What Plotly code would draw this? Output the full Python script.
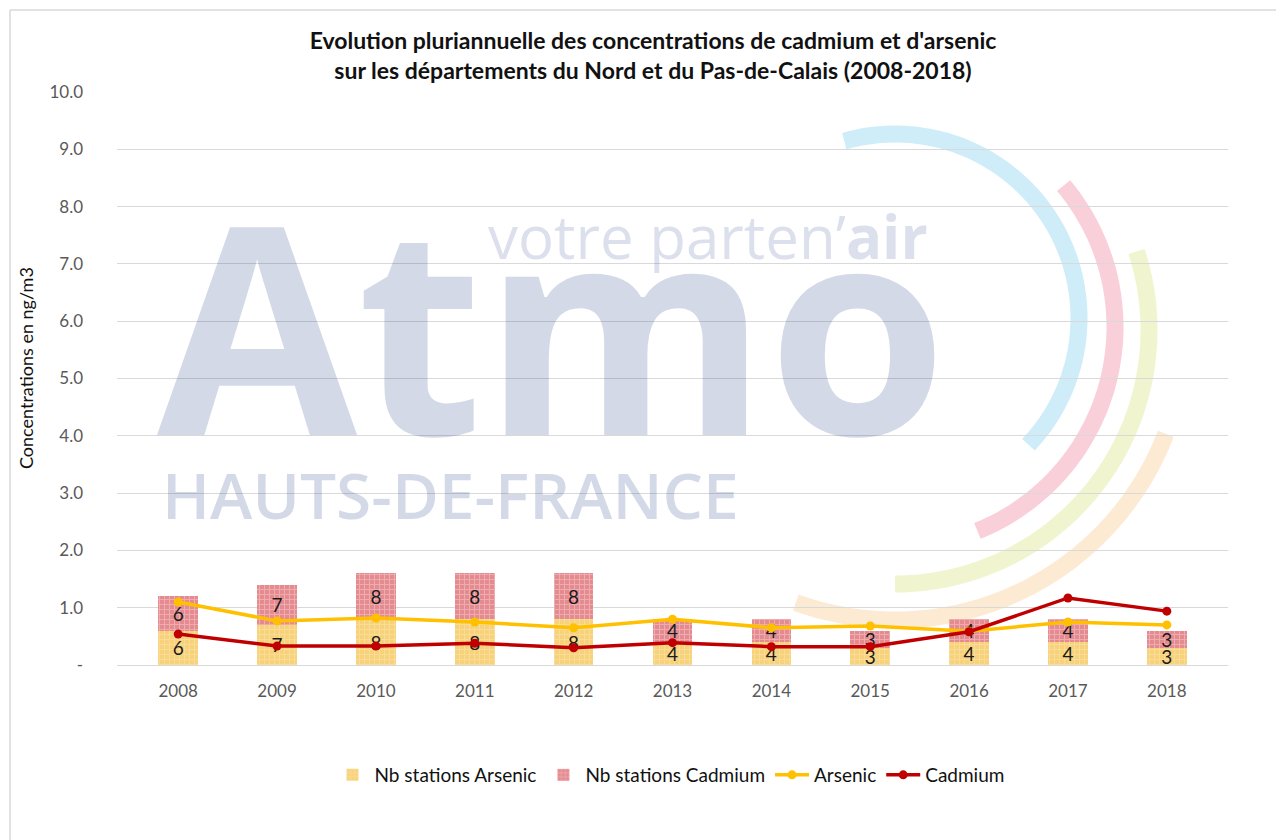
import numpy as np
import plotly.graph_objects as go

# ---------------- data ----------------
years = ["2008", "2009", "2010", "2011", "2012", "2013", "2014", "2015", "2016", "2017", "2018"]
nb_stations_arsenic = [6, 7, 8, 8, 8, 4, 4, 3, 4, 4, 3]
nb_stations_cadmium = [6, 7, 8, 8, 8, 4, 4, 3, 4, 4, 3]
arsenic = [1.10, 0.77, 0.82, 0.75, 0.65, 0.80, 0.65, 0.68, 0.59, 0.75, 0.70]
cadmium = [0.54, 0.33, 0.33, 0.38, 0.30, 0.39, 0.32, 0.32, 0.58, 1.17, 0.94]
station_scale = 0.1  # station counts drawn at 1/10 on the concentration axis
y_tickvals = [0, 1, 2, 3, 4, 5, 6, 7, 8, 9, 10]
y_ticktext = ["-", "1.0", "2.0", "3.0", "4.0", "5.0", "6.0", "7.0", "8.0", "9.0", "10.0"]

FONT = "Lato"
OFF = 8  # page body margin
W, H = 1284 - OFF, 840 - OFF
# plot area in screen pixels: x 117..1228, y 92..665
L, T = 117 - OFF, 92 - OFF
R = W - (1228 - OFF)
B = H - (665 - OFF)
PW, PH = W - L - R, H - T - B


def px(x):  # screen pixel -> paper
    return (x - OFF - L) / PW


def py(y):
    return (H - B - (y - OFF)) / PH


fig = go.Figure()

fig.add_trace(go.Bar(
    x=years, y=[n * station_scale for n in nb_stations_arsenic],
    text=[str(n) for n in nb_stations_arsenic], name="Nb stations Arsenic",
    marker=dict(color="#F7D27A", line=dict(width=0),
                pattern=dict(shape="+", bgcolor="#F7D27A", fgcolor="#FBE6B2",
                             size=5, solidity=0.35)),
    textposition="inside", insidetextanchor="middle", textangle=0,
    textfont=dict(color="#1a1a1a", size=19, family=FONT),
))
fig.add_trace(go.Bar(
    x=years, y=[n * station_scale for n in nb_stations_cadmium],
    text=[str(n) for n in nb_stations_cadmium], name="Nb stations Cadmium",
    marker=dict(color="#E58A8E", line=dict(width=0),
                pattern=dict(shape="+", bgcolor="#E58A8E", fgcolor="#F6D0D2",
                             size=5, solidity=0.35)),
    textposition="inside", insidetextanchor="middle", textangle=0,
    textfont=dict(color="#1a1a1a", size=19, family=FONT),
))
fig.add_trace(go.Scatter(
    x=years, y=arsenic, name="Arsenic", mode="lines+markers",
    line=dict(color="#FFC000", width=3.5), marker=dict(color="#FFC000", size=9),
))
fig.add_trace(go.Scatter(
    x=years, y=cadmium, name="Cadmium", mode="lines+markers",
    line=dict(color="#C00000", width=3.5), marker=dict(color="#C00000", size=9),
))

# ---------------- watermark logo (decoration) ----------------
shapes = []
arcs = [  # cx, cy, r, a0, a1 (deg, screen coords), colour
    (895, 318, 184, -106, 43.5, "rgba(140,210,240,0.42)"),
    (895, 327, 220, -40, 68, "rgba(240,140,165,0.42)"),
    (895, 330, 254, -18, 90, "rgba(215,230,130,0.38)"),
    (895, 330, 290, 21, 110, "rgba(248,200,140,0.38)"),
]
for cx, cy, r, a0, a1, col in arcs:
    t = np.radians(np.linspace(a0, a1, 80))
    xs = cx + r * np.cos(t)
    ys = cy + r * np.sin(t)
    path = "M " + " L ".join(f"{px(a):.4f},{py(b):.4f}" for a, b in zip(xs, ys))
    shapes.append(dict(type="path", path=path, xref="paper", yref="paper",
                       line=dict(color=col, width=17), layer="below"))

# chart border (top and left visible)
shapes.append(dict(type="line", xref="paper", yref="paper", x0=px(10), x1=px(1290),
                   y0=py(10), y1=py(10), line=dict(color="#D9D9D9", width=1.5)))
shapes.append(dict(type="line", xref="paper", yref="paper", x0=px(10), x1=px(10),
                   y0=py(10), y1=py(845), line=dict(color="#D9D9D9", width=1.5)))

WM = "rgba(60,80,150,0.22)"
annotations = [
    dict(text="<b>Atmo</b>", xref="paper", yref="paper", x=px(155), y=py(322),
         xanchor="left", yanchor="middle", showarrow=False,
         font=dict(family="Open Sans", size=290, color=WM)),
    dict(text="HAUTS-DE-FRANCE", xref="paper", yref="paper", x=px(160), y=py(494),
         xanchor="left", yanchor="middle", showarrow=False,
         font=dict(family="Open Sans", size=64, weight=600, color=WM)),
    dict(text="votre parten\u2019<b>air</b>", xref="paper", yref="paper", x=px(486), y=py(236),
         xanchor="left", yanchor="middle", showarrow=False,
         font=dict(family="Open Sans", size=60, color="rgba(60,80,150,0.18)")),
    dict(text="Concentrations en ng/m3", xref="paper", yref="paper", x=px(26), y=py(368),
         xanchor="center", yanchor="middle", showarrow=False, textangle=-90,
         font=dict(family=FONT, size=18, color="#111111")),
]

fig.update_layout(
    width=W, height=H,
    margin=dict(l=L, r=R, t=T, b=B, autoexpand=False),
    paper_bgcolor="white", plot_bgcolor="white",
    barmode="stack", bargap=0.6,
    font=dict(family=FONT, color="#595959", size=17),
    title=dict(
        text="<b>Evolution pluriannuelle des concentrations de cadmium et d'arsenic<br>"
             "sur les départements du Nord et du Pas-de-Calais (2008-2018)</b>",
        x=px(653), xref="paper", xanchor="center", y=1 - (49 - OFF) / H, yanchor="middle",
        font=dict(family=FONT, size=23, color="#111111"),
    ),
    xaxis=dict(showgrid=False, showline=False, ticks="", automargin=False,
               ticklabelstandoff=14,
               tickfont=dict(size=17, color="#595959")),
    yaxis=dict(range=[0, 10], tickvals=y_tickvals, ticktext=y_ticktext,
               showgrid=True, gridcolor="#D9D9D9", gridwidth=1,
               zeroline=True, zerolinecolor="#D9D9D9", zerolinewidth=1,
               tickfont=dict(size=17, color="#595959"), ticks="",
               ticklabelstandoff=33, automargin=False),
    legend=dict(orientation="h", x=px(670), xanchor="center", y=py(775), yanchor="middle",
                font=dict(size=19, color="#111111"), traceorder="normal",
                itemwidth=34),
    uniformtext=dict(minsize=19, mode="show"),
    shapes=shapes,
    annotations=annotations,
)

fig.write_html("out.html")
